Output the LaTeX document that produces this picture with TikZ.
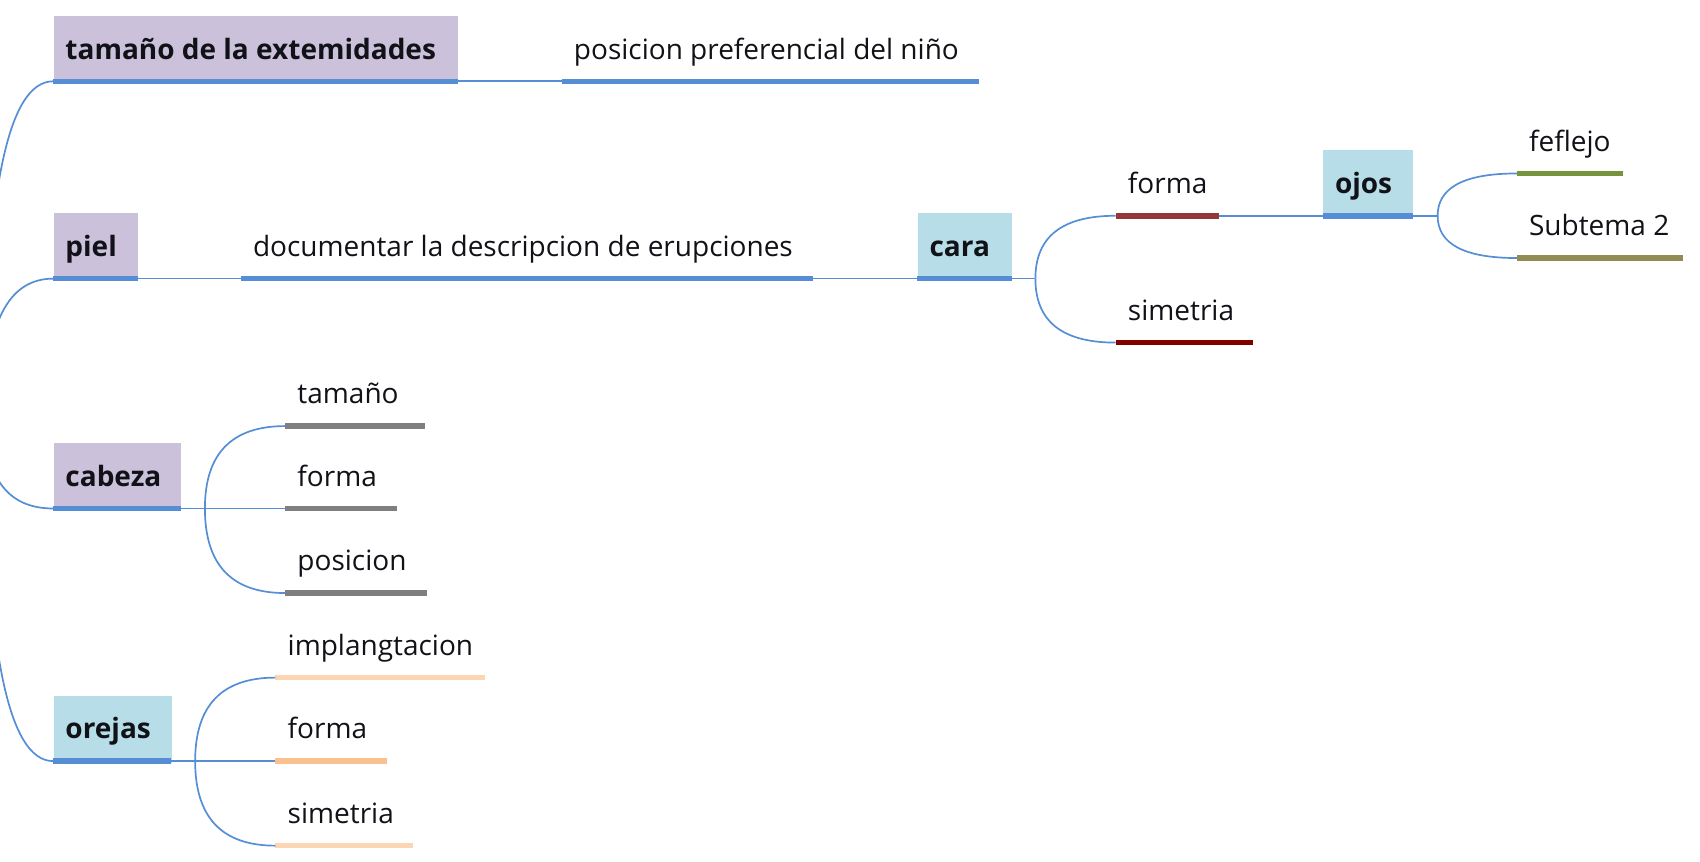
\documentclass[tikz,border=0pt]{standalone}
\usepackage{fontspec}
\setmainfont{Open Sans}
\usetikzlibrary{calc}
\definecolor{lineblue}{HTML}{558ED5}
\definecolor{boxpurple}{HTML}{CCC1DA}
\definecolor{boxblue}{HTML}{B7DEE8}
\definecolor{darkred}{HTML}{953735}
\definecolor{maroon}{HTML}{800000}
\definecolor{leafgreen}{HTML}{77933C}
\definecolor{olive}{HTML}{948A54}
\definecolor{midgray}{HTML}{7F7F7F}
\definecolor{peachlight}{HTML}{FCD5B5}
\definecolor{peach}{HTML}{FAC090}
\definecolor{ink}{HTML}{111118}
\newcommand\boxtopic[6]{% name, x1, x2, ul, fill, text
  \node[boxshape, fill=#5, minimum width={(#3-#2)*0.5421pt}, anchor=south west] (#1) at (#2,#4+2) {};
  \node[lbl, font=\fontsize{14}{16}\selectfont\bfseries] (#1-t) at (#2+11,#4-20.5) {#6};
  \draw[ul, draw=lineblue] (#2,#4) coordinate (#1-l) -- (#3,#4) coordinate (#1-r);
}
\newcommand\subtopic[6]{% name, x1, x2, ul, colour, text
  \node[lbl] (#1) at (#2+11,#4-20.5) {#6};
  \draw[ul, draw=#5] (#2,#4) coordinate (#1-l) -- (#3,#4) coordinate (#1-r);
}
\newcommand\bcurve[2]{%
  \draw[conn] (#1) .. controls ($(#1)!0.667!(#1|-#2)$) and ($(#2)!0.667!(#1|-#2)$) .. (#2);
}
\begin{document}
\begin{tikzpicture}[x=0.5421pt, y=-0.5421pt,
  conn/.style={draw=lineblue, line width=0.85pt},
  ul/.style={line width=2.8pt},
  lbl/.style={anchor=base west, inner sep=0pt, text=ink, font=\fontsize{14}{16}\selectfont},
  boxshape/.style={draw=none, inner sep=0pt, minimum height=33.6pt}]
\useasboundingbox (0,0) rectangle (1568,795);

% main topics
\boxtopic{tam}{49}{422}{75}{boxpurple}{tamaño de la extemidades}
\boxtopic{piel}{49}{127}{257}{boxpurple}{piel}
\boxtopic{cab}{49}{167}{469}{boxpurple}{cabeza}
\boxtopic{ore}{49}{158}{702}{boxblue}{orejas}
\boxtopic{cara}{846}{933}{257}{boxblue}{cara}
\boxtopic{ojos}{1220}{1303}{199}{boxblue}{ojos}

% subtopics
\subtopic{pos}{518}{903}{75}{lineblue}{posicion preferencial del niño}
\subtopic{doc}{222}{750}{257}{lineblue}{documentar la descripcion de erupciones}
\subtopic{cforma}{1029}{1124}{199}{darkred}{forma}
\subtopic{csim}{1029}{1156}{316}{maroon}{simetria}
\subtopic{fef}{1399}{1497}{160}{leafgreen}{feflejo}
\subtopic{sub}{1399}{1552}{238}{olive}{Subtema 2}
\subtopic{tam2}{263}{392}{393}{midgray}{tamaño}
\subtopic{forma2}{263}{366}{469}{midgray}{forma}
\subtopic{pos2}{263}{394}{547}{midgray}{posicion}
\subtopic{impl}{254}{447}{625}{peachlight}{implangtacion}
\subtopic{forma3}{254}{357}{702}{peach}{forma}
\subtopic{sim3}{254}{381}{780}{peachlight}{simetria}

% branch points
\coordinate (root) at (-14,384);
\coordinate (bcara) at (955,257);
\coordinate (bojos) at (1326,199);
\coordinate (bcab) at (189,469);
\coordinate (bore) at (180,702);

% connectors
\bcurve{root}{tam-l}
\bcurve{root}{piel-l}
\bcurve{root}{cab-l}
\bcurve{root}{ore-l}
\draw[conn] (tam-r) -- (pos-l);
\draw[conn] (piel-r) -- (doc-l);
\draw[conn] (doc-r) -- (cara-l);
\draw[conn] (cara-r) -- (bcara);
\bcurve{bcara}{cforma-l}
\bcurve{bcara}{csim-l}
\draw[conn] (cforma-r) -- (ojos-l);
\draw[conn] (ojos-r) -- (bojos);
\bcurve{bojos}{fef-l}
\bcurve{bojos}{sub-l}
\draw[conn] (cab-r) -- (bcab);
\bcurve{bcab}{tam2-l}
\draw[conn] (bcab) -- (forma2-l);
\bcurve{bcab}{pos2-l}
\draw[conn] (ore-r) -- (bore);
\bcurve{bore}{impl-l}
\draw[conn] (bore) -- (forma3-l);
\bcurve{bore}{sim3-l}
\end{tikzpicture}
\end{document}
